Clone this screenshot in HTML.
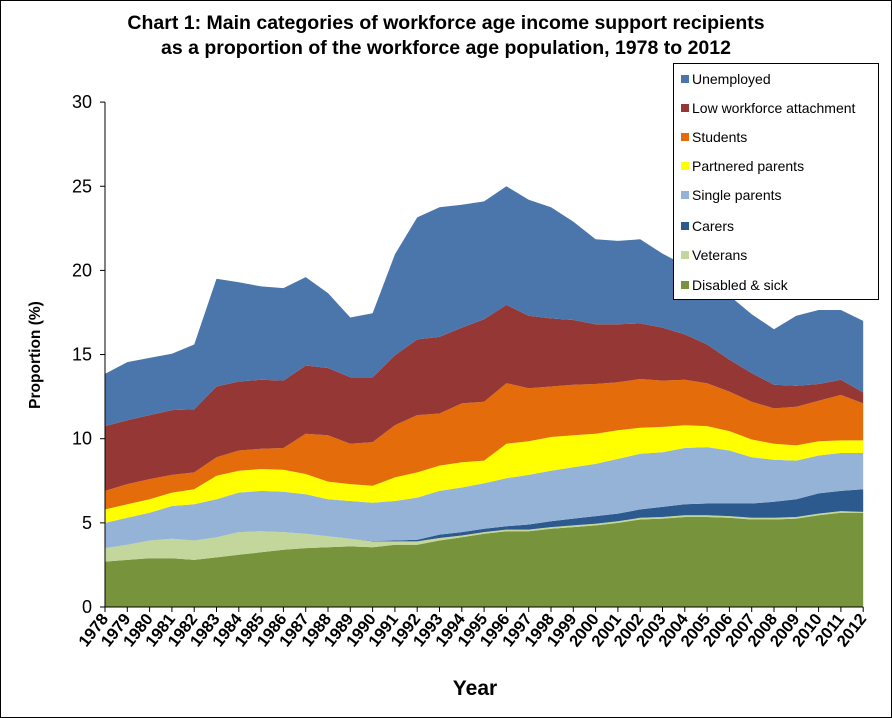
<!DOCTYPE html>
<html><head><meta charset="utf-8"><style>
html,body{margin:0;padding:0;background:#fff;}
svg{display:block;font-family:"Liberation Sans",Arial,sans-serif;}
</style></head><body>
<svg id="s" width="892" height="718" xmlns="http://www.w3.org/2000/svg">
<rect x="0.5" y="0.5" width="891" height="717" fill="#fff" stroke="#000" stroke-width="1"/>
<text x="446" y="29" text-anchor="middle" font-size="19.5" font-weight="bold">Chart 1: Main categories of workforce age income support recipients</text>
<text x="446" y="54" text-anchor="middle" font-size="19.5" font-weight="bold">as a proportion of the workforce age population, 1978 to 2012</text>
<g id="areas"></g>
<g id="axes"></g>
<text transform="translate(40,355) rotate(-90)" text-anchor="middle" font-size="15.5" font-weight="bold">Proportion (%)</text>
<text x="475" y="695" text-anchor="middle" font-size="21" font-weight="bold">Year</text>
<g id="legend"></g>
</svg>
<script>
var NS="http://www.w3.org/2000/svg";
function el(t,a,p,txt){var e=document.createElementNS(NS,t);for(var k in a)e.setAttribute(k,a[k]);if(txt!=null)e.textContent=txt;p.appendChild(e);return e;}
var X0=105,DX=22.3,Y0=607,SY=16.83;
function px(i){return X0+i*DX;} function py(v){return Y0-v*SY;}
var tops=[
[2.7,2.8,2.9,2.9,2.8,2.95,3.1,3.25,3.4,3.5,3.55,3.6,3.55,3.7,3.7,3.95,4.15,4.35,4.5,4.5,4.65,4.75,4.85,5.0,5.2,5.25,5.35,5.35,5.3,5.2,5.2,5.25,5.45,5.6,5.6],
[3.5,3.7,3.95,4.05,3.95,4.15,4.45,4.5,4.45,4.35,4.2,4.05,3.9,3.9,3.9,4.1,4.25,4.45,4.6,4.6,4.75,4.85,4.95,5.1,5.3,5.35,5.45,5.45,5.4,5.3,5.3,5.35,5.55,5.7,5.65],
[3.5,3.7,3.95,4.05,3.95,4.15,4.45,4.5,4.45,4.35,4.2,4.05,3.92,3.95,4.0,4.3,4.45,4.65,4.8,4.9,5.1,5.25,5.4,5.55,5.8,5.95,6.1,6.15,6.15,6.15,6.25,6.4,6.75,6.9,7.0],
[5.0,5.3,5.6,6.0,6.1,6.4,6.8,6.9,6.85,6.7,6.4,6.3,6.2,6.3,6.5,6.9,7.1,7.35,7.65,7.85,8.1,8.3,8.5,8.8,9.1,9.2,9.45,9.5,9.3,8.9,8.75,8.7,9.0,9.15,9.15],
[5.8,6.1,6.4,6.8,7.0,7.8,8.1,8.2,8.15,7.9,7.45,7.3,7.2,7.7,8.0,8.4,8.6,8.7,9.7,9.85,10.1,10.2,10.3,10.5,10.65,10.7,10.8,10.75,10.45,9.95,9.7,9.6,9.85,9.9,9.9],
[6.9,7.3,7.6,7.85,8.0,8.9,9.3,9.4,9.45,10.3,10.2,9.7,9.8,10.8,11.4,11.5,12.1,12.2,13.3,13.0,13.1,13.2,13.25,13.35,13.55,13.45,13.5,13.3,12.8,12.2,11.8,11.9,12.25,12.6,12.1],
[10.75,11.1,11.4,11.7,11.75,13.1,13.4,13.5,13.45,14.35,14.2,13.65,13.65,14.95,15.9,16.05,16.6,17.1,17.95,17.3,17.15,17.05,16.8,16.8,16.85,16.6,16.2,15.6,14.7,13.9,13.2,13.15,13.25,13.5,12.75],
[13.85,14.55,14.8,15.05,15.6,19.5,19.3,19.05,18.95,19.6,18.65,17.2,17.45,20.95,23.15,23.75,23.9,24.1,25.0,24.2,23.75,22.9,21.85,21.75,21.85,21.0,20.3,19.5,18.5,17.4,16.5,17.3,17.65,17.65,17.0]];
var cols=["#77933c","#c3d69b","#2c5a8f","#95b3d7","#ffff00","#e46c0a","#953735","#4a76ab"];
var names=["Disabled & sick","Veterans","Carers","Single parents","Partnered parents","Students","Low workforce attachment","Unemployed"];
var A=document.getElementById("areas");
for(var s=0;s<8;s++){var d="";var t=tops[s];
 for(var i=0;i<35;i++)d+=(i?"L":"M")+px(i).toFixed(1)+","+py(t[i]).toFixed(1);
 for(var i=34;i>=0;i--){var b=s?tops[s-1][i]:0;d+="L"+px(i).toFixed(1)+","+py(b).toFixed(1);}
 el("path",{d:d+"Z",fill:cols[s]},A);}
var G=document.getElementById("axes");
el("line",{x1:X0,y1:py(30),x2:X0,y2:Y0,stroke:"#000"},G);
el("line",{x1:X0,y1:Y0,x2:px(34),y2:Y0,stroke:"#000"},G);
for(var v=0;v<=30;v+=5){el("line",{x1:X0-5,y1:py(v),x2:X0,y2:py(v),stroke:"#000"},G);
 el("text",{x:X0-13,y:py(v)+6,"text-anchor":"end","font-size":"18"},G,String(v));}
for(var i=0;i<35;i++){var x=px(i);el("line",{x1:x,y1:Y0,x2:x,y2:Y0+5,stroke:"#000"},G);
 el("text",{transform:"translate("+(x+4)+","+(Y0+12)+") rotate(-52)","text-anchor":"end","font-size":"16.5","font-weight":"bold"},G,String(1978+i));}
var L=document.getElementById("legend");
el("rect",{x:673.5,y:63.5,width:205,height:236,fill:"#fff",stroke:"#000"},L);
var ly=[79,108,137,166,195,226,255,285];
for(var k=0;k<8;k++){var s=7-k;
 el("rect",{x:681,y:ly[k]-4,width:8,height:8,fill:cols[s]},L);
 el("text",{x:692,y:ly[k]+5,"font-size":"14"},L,names[s]);}
</script>
</body></html>
